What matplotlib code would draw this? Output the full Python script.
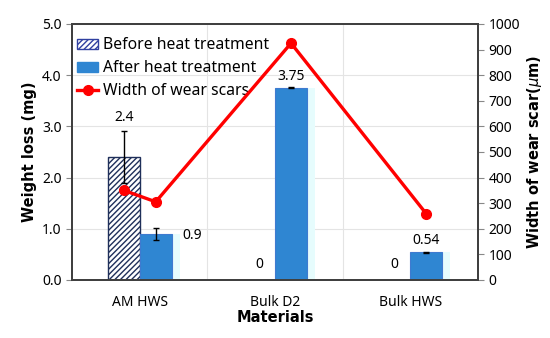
import matplotlib

matplotlib.use("Agg")
import matplotlib.pyplot as plt
import numpy as np
from matplotlib.lines import Line2D
from matplotlib.patches import Patch

plt.rcParams["font.family"] = ["Noto Sans", "DejaVu Sans"]
plt.rcParams["hatch.color"] = "#1f2f5a"
plt.rcParams["hatch.linewidth"] = 1.0

# data
materials = ["AM HWS", "Bulk D2", "Bulk HWS"]
before_loss = [2.4, 0.0, 0.0]
before_err = [0.5, 0.0, 0.0]
after_loss = [0.9, 3.75, 0.54]
after_err = [0.12, 0.01, 0.01]
before_labels = ["2.4", "0", "0"]
after_labels = ["0.9", "3.75", "0.54"]
# wear scar width: AM HWS before, AM HWS after, Bulk D2 after, Bulk HWS after
scar_width = [350, 305, 925, 258]

BAR_W = 0.237
x = np.arange(len(materials))
BOLD = dict(fontsize=10.5, fontweight="bold", family="DejaVu Sans")

fig = plt.figure(figsize=(5.5, 3.38), dpi=100)
ax = fig.add_axes([0.131, 0.172, 0.738, 0.757])
ax2 = ax.twinx()

# light cyan glow behind the after bars
ax.bar(x + BAR_W / 2 + 0.03, after_loss, BAR_W + 0.06, color="#e6fcfd",
       edgecolor="none", zorder=1)
ax.bar(x - BAR_W / 2, before_loss, BAR_W, color="white", edgecolor="#1f2f5a",
       hatch="//////", lw=1.0, zorder=2)
ax.bar(x + BAR_W / 2, after_loss, BAR_W, color="#2f86d2", edgecolor="#3f7ad0",
       lw=0.8, zorder=2)
ax.errorbar(x[:1] - BAR_W / 2, before_loss[:1], yerr=before_err[:1], fmt="none",
            ecolor="black", elinewidth=1.0, capsize=2.5, zorder=3)
ax.errorbar(x + BAR_W / 2, after_loss, yerr=after_err, fmt="none",
            ecolor="black", elinewidth=1.0, capsize=2.5, zorder=3)

# value labels
ax.text(x[0] - BAR_W / 2, before_loss[0] + before_err[0] + 0.12, before_labels[0],
        ha="center", va="bottom", fontsize=10)
for i in (1, 2):
    ax.text(x[i] - BAR_W / 2, 0.3, before_labels[i], ha="center", va="center",
            fontsize=10)
ax.text(x[0] + BAR_W + 0.08, after_loss[0] - 0.03, after_labels[0], ha="left",
        va="center", fontsize=10)
for i in (1, 2):
    ax.text(x[i] + BAR_W / 2, after_loss[i] + 0.08, after_labels[i], ha="center",
            va="bottom", fontsize=10)

ax.set_xlim(-0.5, 2.5)
ax.set_ylim(0, 5)
ax.set_yticks(np.arange(0, 5.01, 1.0))
ax.set_yticklabels([f"{v:.1f}" for v in np.arange(0, 5.01, 1.0)])
ax.set_xticks(x)
ax.set_xticklabels(materials)
ax.set_xticks([0.5, 1.5], minor=True)
ax.tick_params(axis="x", which="both", length=0, labelsize=10, pad=11)
ax.tick_params(axis="y", labelsize=10, length=4, width=0.8, color="#888888")
ax.grid(axis="y", color="#e4e4e4", lw=0.8)
ax.grid(axis="x", which="minor", color="#e4e4e4", lw=0.8)
ax.set_axisbelow(True)
ax.set_ylabel("Weight loss (mg)", **BOLD)
ax.set_xlabel("Materials", labelpad=0, **BOLD)

line_x = [x[0] - BAR_W / 2, x[0] + BAR_W / 2, x[1] + BAR_W / 2, x[2] + BAR_W / 2]
ax2.plot(line_x, scar_width, "-o", color="#ff0000", lw=2.4, markersize=7, zorder=5)
ax2.set_ylim(0, 1000)
ax2.set_yticks(np.arange(0, 1001, 100))
ax2.tick_params(axis="y", labelsize=10, length=4, width=0.8, color="#888888")
ax2.set_ylabel(r"Width of wear scar($\mu$m)", labelpad=4, **BOLD)

for a in (ax, ax2):
    for s in a.spines.values():
        s.set_color("#404040")
        s.set_linewidth(1.4)

handles = [
    Patch(facecolor="white", edgecolor="#3040a0", hatch="//////"),
    Patch(facecolor="#2f86d2", edgecolor="#2f86d2"),
    Line2D([0], [0], color="#ff0000", lw=2.4, marker="o", markersize=7),
]
ax.legend(handles, ["Before heat treatment", "After heat treatment",
                    "Width of wear scars"],
          loc="upper left", bbox_to_anchor=(-0.01, 0.985), frameon=False,
          fontsize=11.3, handlelength=1.3, handleheight=0.6, handletextpad=0.3,
          labelspacing=0.45, borderaxespad=0.2)

fig.savefig("out.png", dpi=100)
